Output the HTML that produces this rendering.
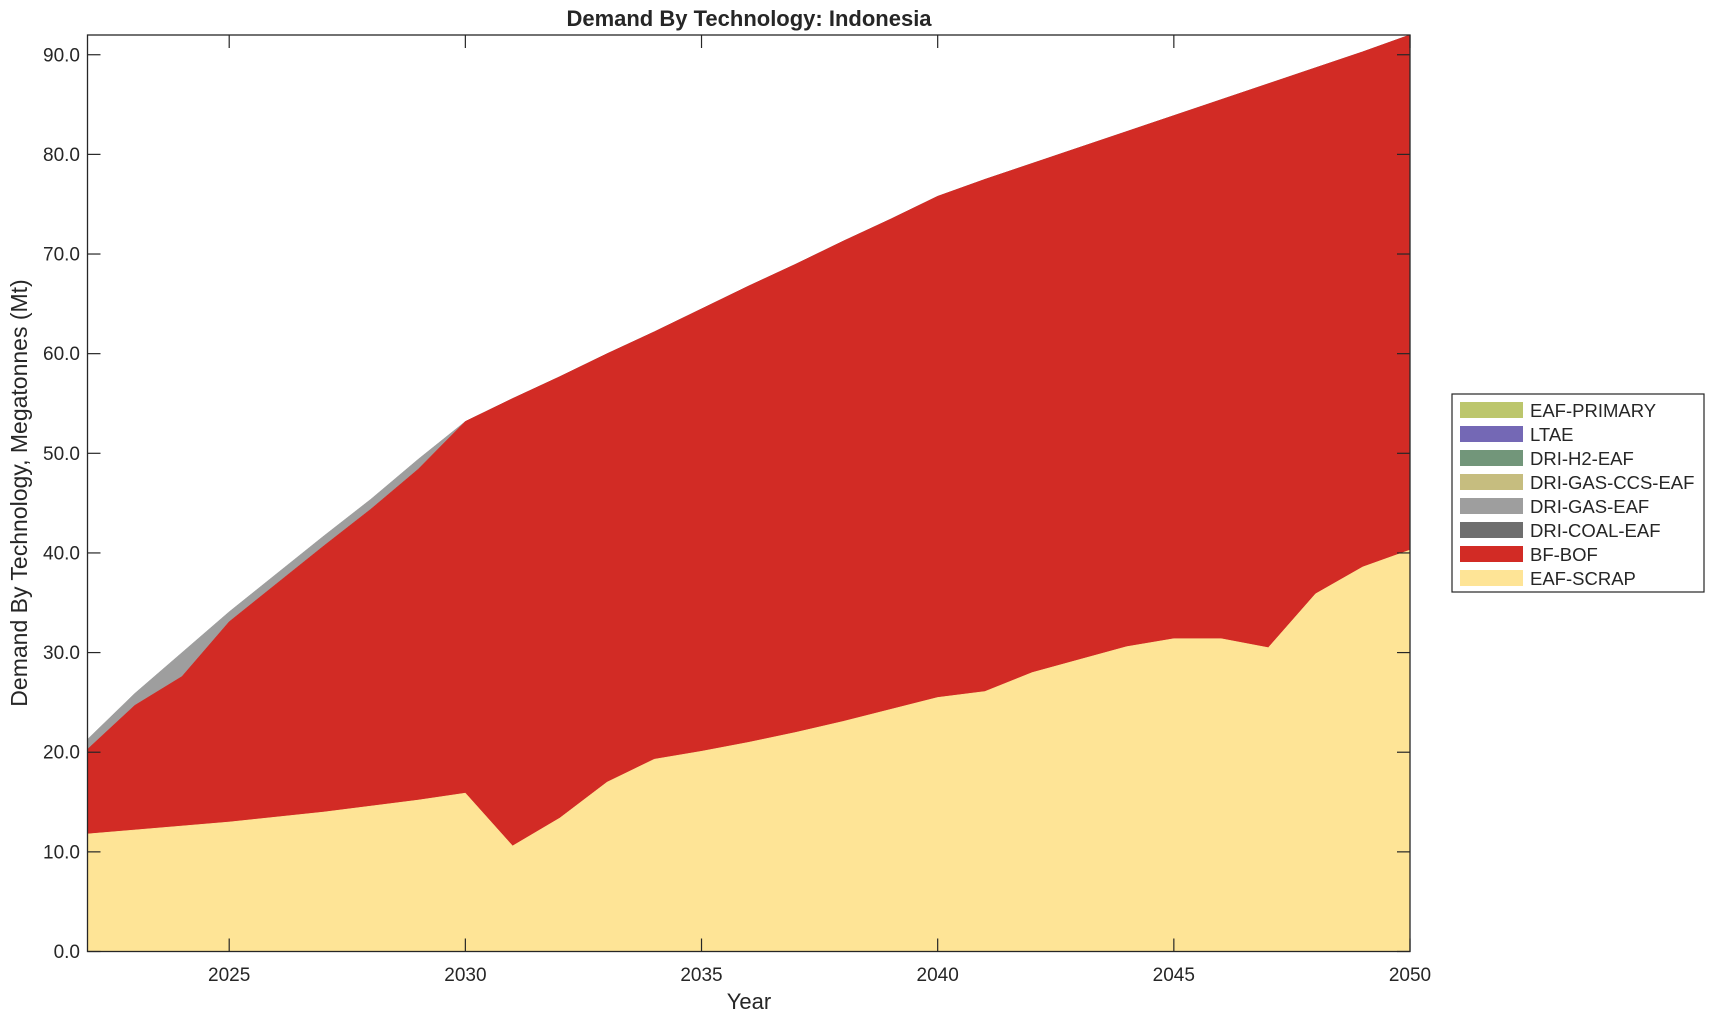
<!DOCTYPE html>
<html><head><meta charset="utf-8"><style>
html,body{margin:0;padding:0;background:#fff;}
svg text{font-family:"Liberation Sans",Arial,sans-serif;fill:#262626;}
</style></head><body>
<svg id="s" width="1715" height="1020" xmlns="http://www.w3.org/2000/svg">
<g id="areas"></g>
<g id="ticks" stroke="#262626" stroke-width="1.2"></g>
<rect x="87.5" y="35" width="1322.5" height="916.5" fill="none" stroke="#262626" stroke-width="1.3"/>
<text x="749" y="26" font-size="22" font-weight="bold" text-anchor="middle">Demand By Technology: Indonesia</text>
<text x="749" y="1009" font-size="22" text-anchor="middle">Year</text>
<text transform="translate(27,493) rotate(-90)" font-size="23" text-anchor="middle">Demand By Technology, Megatonnes (Mt)</text>
<g font-size="19" text-anchor="middle">
<text x="229.2" y="981">2025</text><text x="465.4" y="981">2030</text><text x="701.5" y="981">2035</text>
<text x="937.7" y="981">2040</text><text x="1173.8" y="981">2045</text><text x="1410" y="981">2050</text>
</g>
<g font-size="19" text-anchor="end">
<text x="80" y="958">0.0</text><text x="80" y="858.3">10.0</text><text x="80" y="758.7">20.0</text>
<text x="80" y="659.1">30.0</text><text x="80" y="559.4">40.0</text><text x="80" y="459.8">50.0</text>
<text x="80" y="360.2">60.0</text><text x="80" y="260.5">70.0</text><text x="80" y="160.9">80.0</text>
<text x="80" y="61.3">90.0</text>
</g>
<rect x="1452" y="394" width="252" height="198" fill="#fff" stroke="#262626" stroke-width="1.2"/>
<g>
<rect x="1460" y="402" width="63" height="16" fill="#bcc66c"/>
<rect x="1460" y="426" width="63" height="16" fill="#7468b5"/>
<rect x="1460" y="450" width="63" height="16" fill="#72967a"/>
<rect x="1460" y="474" width="63" height="16" fill="#c6bd7f"/>
<rect x="1460" y="498" width="63" height="16" fill="#9e9e9e"/>
<rect x="1460" y="522" width="63" height="16" fill="#6e6e6e"/>
<rect x="1460" y="546" width="63" height="16" fill="#d22b25"/>
<rect x="1460" y="570" width="63" height="16" fill="#fee496"/>
</g>
<g font-size="18.5">
<text x="1530" y="417">EAF-PRIMARY</text><text x="1530" y="441">LTAE</text>
<text x="1530" y="465">DRI-H2-EAF</text><text x="1530" y="489">DRI-GAS-CCS-EAF</text>
<text x="1530" y="513">DRI-GAS-EAF</text><text x="1530" y="537">DRI-COAL-EAF</text>
<text x="1530" y="561">BF-BOF</text><text x="1530" y="585">EAF-SCRAP</text>
</g>
</svg>
<script>
var scrap=[11.8,12.2,12.6,13.0,13.5,14.0,14.6,15.2,15.9,10.6,13.4,17.0,19.3,20.1,21.0,22.0,23.1,24.3,25.5,26.1,28.0,29.3,30.6,31.4,31.4,30.5,35.9,38.6,40.3];
var total=[21.3,25.9,30.0,34.1,37.9,41.7,45.4,49.4,53.2,55.5,57.7,60.0,62.2,64.5,66.8,69.0,71.3,73.5,75.8,77.5,79.1,80.7,82.3,83.9,85.5,87.1,88.7,90.3,92.0];
var bf=total.slice();var b0=[20.3,24.7,27.6,33.1,36.9,40.7,44.4,48.4,53.2];for(var i=0;i<9;i++)bf[i]=b0[i];
function X(i){return 87.5+i*1322.5/28}function Y(v){return 951.5-v*9.964}
function poly(top,bot,c){var p=[];for(var i=0;i<29;i++)p.push(X(i)+","+Y(top[i]));for(var i=28;i>=0;i--)p.push(X(i)+","+Y(bot?bot[i]:0));return '<polygon points="'+p.join(" ")+'" fill="'+c+'" stroke="'+c+'" stroke-width="0.5"/>'}
document.getElementById("areas").innerHTML=poly(total,bf,"#9e9e9e")+poly(bf,scrap,"#d22b25")+poly(scrap,null,"#fee496");
var t="";
for(var y=0;y<=90;y+=10){var yy=Y(y);t+='<line x1="87.5" y1="'+yy+'" x2="100.5" y2="'+yy+'"/><line x1="1397" y1="'+yy+'" x2="1410" y2="'+yy+'"/>';}
for(var yr=2025;yr<=2050;yr+=5){var xx=X(yr-2022);t+='<line x1="'+xx+'" y1="951.5" x2="'+xx+'" y2="938.5"/><line x1="'+xx+'" y1="35" x2="'+xx+'" y2="48"/>';}
document.getElementById("ticks").innerHTML=t;
</script>
</body></html>
